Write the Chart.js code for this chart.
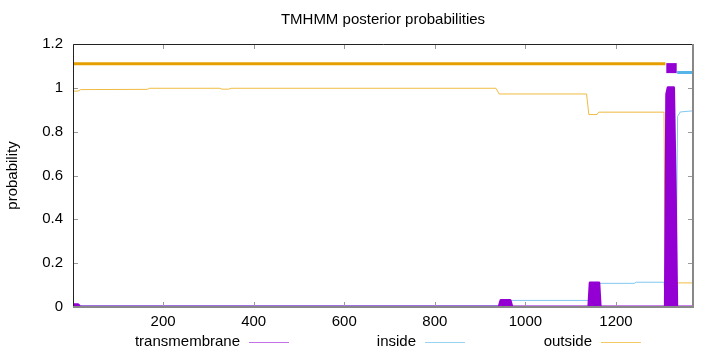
<!DOCTYPE html>
<html>
<head>
<meta charset="utf-8">
<script src="https://cdn.jsdelivr.net/npm/chart.js@4"></script>
<style>
  html, body { margin: 0; padding: 0; background: #fff; }
  #wrap { width: 720px; height: 352px; position: relative; }
</style>
</head>
<body>
<div id="wrap"><canvas id="tmChart"></canvas></div>
<script>
// residue positions / probabilities
const seqRange = [1, 1370];
const xTicks = [200, 400, 600, 800, 1000, 1200];
const yTicks = [0, 0.2, 0.4, 0.6, 0.8, 1, 1.2];

const tmX = [1, 12, 16, 942, 946, 966, 970, 1140, 1143, 1162, 1165, 1309, 1312, 1315, 1327, 1331, 1334, 1370];
const tmY = [0.01, 0.01, 0, 0, 0.03, 0.03, 0, 0, 0.11, 0.11, 0, 0, 0.97, 1.0, 1.0, 0.5, 0, 0];

const insideX = [1, 940, 970, 1140, 1165, 1240, 1245, 1306, 1310, 1332, 1336, 1342, 1370];
const insideY = [0.005, 0.005, 0.03, 0.03, 0.108, 0.108, 0.113, 0.113, 0, 0, 0.87, 0.89, 0.895];

const outsideX = [1, 12, 18, 165, 170, 325, 330, 345, 350, 935, 942, 1135, 1140, 1158, 1162, 1306, 1309, 1331, 1335, 1370];
const outsideY = [0.985, 0.985, 0.992, 0.993, 0.998, 0.998, 0.994, 0.994, 0.998, 0.998, 0.972, 0.972, 0.878, 0.878, 0.889, 0.889, 0, 0, 0.11, 0.11];

// predicted topology bars along the top
const topOutside = [1, 1309];
const topTM = [1311, 1334];
const topInside = [1335, 1370];

const chartTitle = 'TMHMM posterior probabilities';
const legendNames = ['transmembrane', 'inside', 'outside'];

const pts = (xs, ys) => xs.map((x, i) => ({ x: x, y: ys[i] }));

const PURPLE = '#9400d3';
const BLUE = 'rgba(86, 180, 233, 0.75)';
const ORANGE = 'rgba(236, 170, 20, 0.8)';
const FONT = 'Liberation Sans';

const framePlugin = {
  id: 'frame',
  afterDraw(chart) {
    const { ctx, chartArea: a, scales } = chart;
    ctx.save();
    // inward ticks, mirrored
    ctx.strokeStyle = '#999';
    ctx.lineWidth = 1;
    xTicks.forEach(v => {
      const px = Math.round(scales.x.getPixelForValue(v)) + 0.5;
      ctx.beginPath();
      ctx.moveTo(px, a.bottom); ctx.lineTo(px, a.bottom - 5);
      ctx.moveTo(px, a.top); ctx.lineTo(px, a.top + 5);
      ctx.stroke();
    });
    yTicks.forEach(v => {
      const py = Math.round(scales.y.getPixelForValue(v)) + 0.5;
      ctx.beginPath();
      ctx.moveTo(a.left, py); ctx.lineTo(a.left + 5, py);
      ctx.moveTo(a.right, py); ctx.lineTo(a.right - 5, py);
      ctx.stroke();
    });
    // border
    ctx.strokeStyle = '#222';
    ctx.beginPath();
    ctx.moveTo(a.left + 0.5, a.bottom); ctx.lineTo(a.left + 0.5, a.top + 0.5); ctx.lineTo(a.right, a.top + 0.5);
    ctx.stroke();
    ctx.strokeStyle = '#888';
    ctx.lineWidth = 2;
    ctx.beginPath();
    ctx.moveTo(a.right, a.top); ctx.lineTo(a.right, a.bottom); ctx.lineTo(a.left, a.bottom);
    ctx.stroke();

    ctx.fillStyle = '#000';
    ctx.font = '15px ' + FONT;
    ctx.textBaseline = 'middle';
    // title centred over the plot frame
    ctx.textAlign = 'center';
    ctx.fillText(chartTitle, (a.left + a.right) / 2, 20);

    // legend under the axis: text then sample line
    const legendCols = ['rgba(148, 0, 211, 0.55)', 'rgba(86, 180, 233, 0.6)', 'rgba(236, 170, 20, 0.65)'];
    const textRight = [240, 416, 592];
    ctx.textAlign = 'right';
    legendNames.forEach((name, i) => {
      ctx.fillText(name, textRight[i], 342);
      ctx.strokeStyle = legendCols[i];
      ctx.lineWidth = 1;
      ctx.beginPath();
      ctx.moveTo(textRight[i] + 9, 342.5);
      ctx.lineTo(textRight[i] + 49, 342.5);
      ctx.stroke();
    });
    ctx.restore();
  }
};

new Chart(document.getElementById('tmChart'), {
  type: 'line',
  data: {
    datasets: [
      {
        label: 'top outside',
        data: pts(topOutside, [1.11, 1.11]),
        borderColor: '#e69f00',
        borderWidth: 3,
        order: 1
      },
      {
        label: 'top inside',
        data: pts(topInside, [1.07, 1.07]),
        borderColor: '#56b4e9',
        borderWidth: 3,
        order: 1
      },
      {
        label: 'top TM',
        data: pts(topTM, [1.09, 1.09]),
        borderColor: PURPLE,
        borderWidth: 10,
        borderCapStyle: 'butt',
        order: 0
      },
      {
        label: legendNames[1],
        data: pts(insideX, insideY),
        borderColor: BLUE,
        borderWidth: 1,
        order: 3
      },
      {
        label: legendNames[2],
        data: pts(outsideX, outsideY),
        borderColor: ORANGE,
        borderWidth: 1,
        order: 3
      },
      {
        label: legendNames[0],
        data: pts(tmX, tmY),
        borderColor: PURPLE,
        backgroundColor: PURPLE,
        borderWidth: 3,
        borderJoinStyle: 'round',
        fill: 'origin',
        order: 2
      }
    ]
  },
  options: {
    responsive: true,
    maintainAspectRatio: false,
    animation: false,
    layout: { padding: { left: 0, right: 27, top: 44, bottom: 0 } },
    elements: {
      point: { radius: 0 },
      line: { tension: 0 }
    },
    plugins: {
      legend: { display: false },
      tooltip: { enabled: false },
      title: { display: false }
    },
    scales: {
      x: {
        type: 'linear',
        min: seqRange[0],
        max: seqRange[1],
        grid: { display: false, drawTicks: false },
        border: { display: false },
        afterBuildTicks: s => { s.ticks = xTicks.map(v => ({ value: v })); },
        afterFit: s => { s.height = 45; },
        ticks: {
          color: '#000',
          padding: 6,
          maxRotation: 0,
          font: { family: FONT, size: 15 },
          callback: v => String(v)
        }
      },
      y: {
        min: 0,
        max: 1.2,
        grid: { display: false, drawTicks: false },
        border: { display: false },
        afterBuildTicks: s => { s.ticks = yTicks.map(v => ({ value: v })); },
        afterFit: s => { s.width = 73; },
        ticks: {
          color: '#000',
          padding: 10,
          font: { family: FONT, size: 15 },
          callback: v => String(parseFloat(v.toFixed(1)))
        },
        title: {
          display: true,
          text: 'probability',
          color: '#000',
          font: { family: FONT, size: 15 },
          padding: { top: 4, bottom: 0 }
        }
      }
    }
  },
  plugins: [framePlugin]
});
</script>
</body>
</html>
